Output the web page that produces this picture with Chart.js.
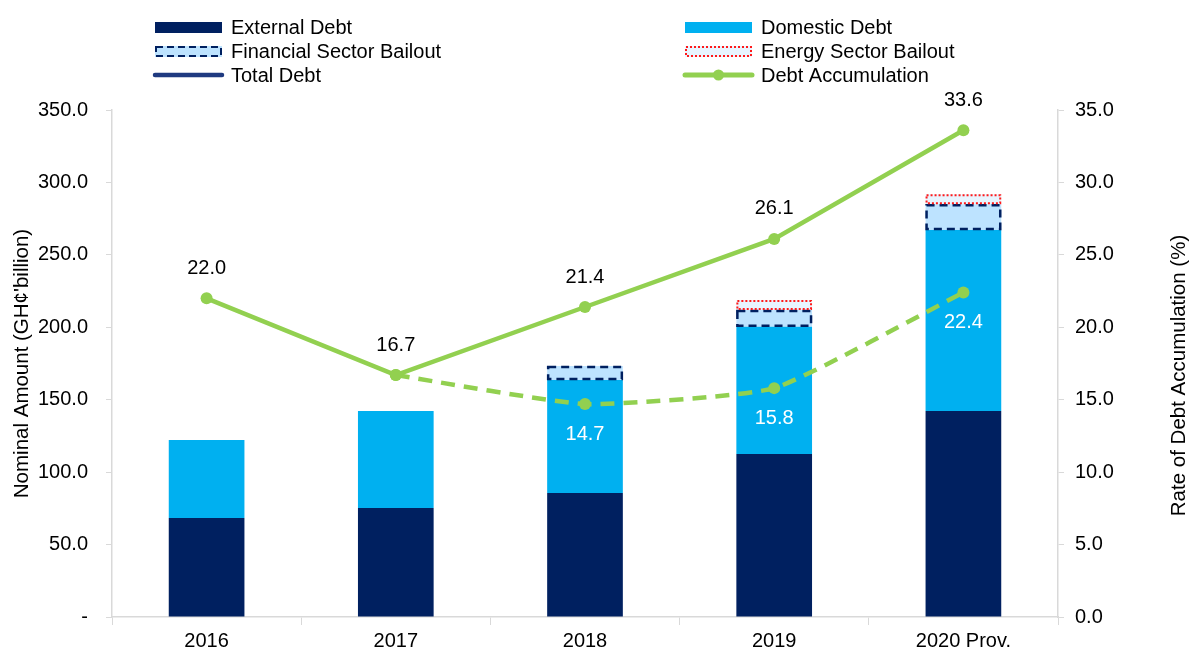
<!DOCTYPE html>
<html>
<head>
<meta charset="utf-8">
<script src="https://cdn.jsdelivr.net/npm/chart.js@4.4.1/dist/chart.umd.min.js"></script>
<style>
  html, body { margin: 0; padding: 0; background: #fff; }
  #wrap { width: 1190px; height: 652px; position: relative; }
</style>
</head>
<body>
<div id="wrap"><canvas id="debtChart"></canvas></div>
<script>
// datos
const years = ['2016', '2017', '2018', '2019', '2020 Prov.'];
const externalDebt = [68.3, 75.2, 85.6, 112.5, 142.2];
const domesticDebt = [53.9, 67.0, 78.0, 87.8, 124.9];
const financialBailout = [null, null, 9.6, 11.6, 17.9];
const energyBailout = [null, null, null, 6.9, 6.9];
const totalDebt = [122.2, 142.2, 173.2, 218.8, 291.9];
const debtAccum = [22.0, 16.7, 21.4, 26.1, 33.6];
const debtAccumExBailout = [null, 16.7, 14.7, 15.8, 22.4];

const leftTicks = [0, 50, 100, 150, 200, 250, 300, 350];
const rightTicks = [0, 5, 10, 15, 20, 25, 30, 35];

const NAVY = '#002060';
const CYAN = '#00B0F0';
const FIN_FILL = '#BDE3FF';
const ENERGY_FILL = '#E8F5FF';
const RED = '#FF1A1A';
const GREEN = '#92D050';
const AXIS_GREY = '#D9D9D9';
const FONT = 'Arial, "Liberation Sans", sans-serif';
const FS = 20;

Chart.defaults.font.family = FONT;
Chart.defaults.color = '#000';

// bordes punteados de los rescates (la barra de Chart.js no admite borderDash)
const dashedBars = {
  id: 'dashedBars',
  afterDatasetsDraw(chart) {
    const ctx = chart.ctx;
    const styles = {
      2: { color: NAVY, width: 2.5, dash: [8, 5] },
      3: { color: RED, width: 2, dash: [2, 2] }
    };
    Object.keys(styles).forEach(i => {
      const st = styles[i];
      chart.getDatasetMeta(+i).data.forEach((el, j) => {
        if (chart.data.datasets[i].data[j] == null) return;
        const w = el.width;
        ctx.save();
        ctx.strokeStyle = st.color;
        ctx.lineWidth = st.width;
        ctx.setLineDash(st.dash);
        ctx.strokeRect(el.x - w / 2 + 1, el.y + 1, w - 2, el.base - el.y - 2);
        ctx.restore();
      });
    });
  }
};

// etiquetas de valores de las líneas
const lineLabels = {
  id: 'lineLabels',
  afterDatasetsDraw(chart) {
    const ctx = chart.ctx;
    ctx.save();
    ctx.font = FS + 'px ' + FONT;
    ctx.textAlign = 'center';
    ctx.textBaseline = 'middle';
    chart.getDatasetMeta(5).data.forEach((pt, j) => {
      ctx.fillStyle = '#000';
      ctx.fillText(debtAccum[j].toFixed(1), pt.x, pt.y - 30);
    });
    chart.getDatasetMeta(6).data.forEach((pt, j) => {
      if (debtAccumExBailout[j] == null || j === 1) return;
      ctx.fillStyle = '#fff';
      ctx.fillText(debtAccumExBailout[j].toFixed(1), pt.x, pt.y + 30);
    });
    ctx.restore();
  }
};

// título del eje derecho, leído de abajo hacia arriba como en el original
const rightTitle = {
  id: 'rightTitle',
  afterDraw(chart) {
    const ctx = chart.ctx;
    const a = chart.chartArea;
    ctx.save();
    ctx.translate(1179, (a.top + a.bottom) / 2 + 12);
    ctx.rotate(-Math.PI / 2);
    ctx.font = '20.5px ' + FONT;
    ctx.fillStyle = '#000';
    ctx.textAlign = 'center';
    ctx.textBaseline = 'middle';
    ctx.fillText('Rate of Debt Accumulation (%)', 0, 0);
    ctx.restore();
  }
};

// leyenda en dos columnas
const twoColLegend = {
  id: 'twoColLegend',
  afterDraw(chart) {
    const ctx = chart.ctx;
    const items = [
      { text: 'External Debt', kind: 'box', fill: NAVY, x: 155, y: 27 },
      { text: 'Domestic Debt', kind: 'box', fill: CYAN, x: 685, y: 27 },
      { text: 'Financial Sector Bailout', kind: 'dbox', fill: FIN_FILL, stroke: NAVY, dash: [7, 4], x: 155, y: 51 },
      { text: 'Energy Sector Bailout', kind: 'dbox', fill: ENERGY_FILL, stroke: RED, dash: [2, 2], x: 685, y: 51 },
      { text: 'Total Debt', kind: 'line', stroke: '#1F3A80', x: 155, y: 75 },
      { text: 'Debt Accumulation', kind: 'dot', stroke: GREEN, x: 685, y: 75 }
    ];
    ctx.save();
    items.forEach(it => {
      const w = 67;
      if (it.kind === 'box') {
        ctx.fillStyle = it.fill;
        ctx.fillRect(it.x, it.y - 5, w, 11);
      } else if (it.kind === 'dbox') {
        ctx.fillStyle = it.fill;
        ctx.fillRect(it.x, it.y - 5, w, 11);
        ctx.strokeStyle = it.stroke;
        ctx.lineWidth = 2;
        ctx.setLineDash(it.dash);
        ctx.strokeRect(it.x + 1, it.y - 4, w - 2, 9);
        ctx.setLineDash([]);
      } else {
        ctx.strokeStyle = it.stroke;
        ctx.lineWidth = it.kind === 'dot' ? 5 : 4.5;
        ctx.lineCap = 'round';
        ctx.beginPath();
        ctx.moveTo(it.x, it.y);
        ctx.lineTo(it.x + w, it.y);
        ctx.stroke();
        if (it.kind === 'dot') {
          ctx.fillStyle = it.stroke;
          ctx.beginPath();
          ctx.arc(it.x + w / 2, it.y, 5.5, 0, Math.PI * 2);
          ctx.fill();
        }
      }
      ctx.fillStyle = '#000';
      ctx.font = FS + 'px ' + FONT;
      ctx.textAlign = 'left';
      ctx.textBaseline = 'middle';
      ctx.fillText(it.text, it.x + 76, it.y + 1);
    });
    ctx.restore();
  }
};

const ctx = document.getElementById('debtChart').getContext('2d');
new Chart(ctx, {
  data: {
    labels: years,
    datasets: [
      { type: 'bar', label: 'External Debt', data: externalDebt, backgroundColor: NAVY, stack: 's', order: 2 },
      { type: 'bar', label: 'Domestic Debt', data: domesticDebt, backgroundColor: CYAN, stack: 's', order: 2 },
      { type: 'bar', label: 'Financial Sector Bailout', data: financialBailout, backgroundColor: FIN_FILL, stack: 's', order: 2 },
      { type: 'bar', label: 'Energy Sector Bailout', data: energyBailout, backgroundColor: ENERGY_FILL, stack: 's', order: 2 },
      { type: 'line', label: 'Total Debt', data: totalDebt, showLine: false, pointRadius: 0, borderColor: '#1F3A80', yAxisID: 'y', stack: 't', order: 3 },
      {
        type: 'line', label: 'Debt Accumulation', data: debtAccum, yAxisID: 'y1',
        borderColor: GREEN, backgroundColor: GREEN, borderWidth: 4.5,
        pointRadius: 6, pointBackgroundColor: GREEN, pointBorderWidth: 0, tension: 0, order: 0
      },
      {
        type: 'line', label: 'Debt Accumulation (ex. bailouts)', data: debtAccumExBailout, yAxisID: 'y1',
        borderColor: GREEN, backgroundColor: GREEN, borderWidth: 4.5, borderDash: [14, 9],
        pointRadius: 6, pointBackgroundColor: GREEN, pointBorderWidth: 0, tension: 0.15, order: 1
      }
    ]
  },
  options: {
    responsive: true,
    maintainAspectRatio: false,
    animation: false,
    layout: { padding: { top: 110, left: 0, right: 0, bottom: 0 } },
    datasets: { bar: { categoryPercentage: 1, barPercentage: 0.4, borderWidth: 0 } },
    plugins: {
      legend: { display: false },
      tooltip: { enabled: false }
    },
    scales: {
      x: {
        stacked: true,
        offset: true,
        grid: { display: true, drawOnChartArea: false, color: AXIS_GREY, tickLength: 8, offset: true },
        border: { color: AXIS_GREY, width: 1.5 },
        ticks: { font: { size: FS }, color: '#000', padding: 4 },
        afterFit: s => { s.height = 35; }
      },
      y: {
        stacked: true,
        position: 'left',
        min: 0,
        max: 350,
        afterBuildTicks: s => { s.ticks = leftTicks.map(v => ({ value: v })); },
        grid: { display: true, drawOnChartArea: false, color: AXIS_GREY, tickLength: 6 },
        border: { color: AXIS_GREY, width: 1.5 },
        ticks: {
          font: { size: FS }, color: '#000', padding: 18,
          callback: v => v === 0 ? '-' : v.toFixed(1)
        },
        title: { display: true, text: "Nominal Amount (GH\u00A2'billion)", font: { size: 20.5 }, color: '#000', padding: { top: 10, bottom: 0 } },
        afterFit: s => { s.width = 112; }
      },
      y1: {
        stacked: false,
        position: 'right',
        min: 0,
        max: 35,
        afterBuildTicks: s => { s.ticks = rightTicks.map(v => ({ value: v })); },
        grid: { display: true, drawOnChartArea: false, color: AXIS_GREY, tickLength: 6 },
        border: { color: AXIS_GREY, width: 1.5 },
        ticks: { font: { size: FS }, color: '#000', padding: 11, callback: v => v.toFixed(1) },
        afterFit: s => { s.width = 132; }
      }
    }
  },
  plugins: [dashedBars, lineLabels, rightTitle, twoColLegend]
});
</script>
</body>
</html>
